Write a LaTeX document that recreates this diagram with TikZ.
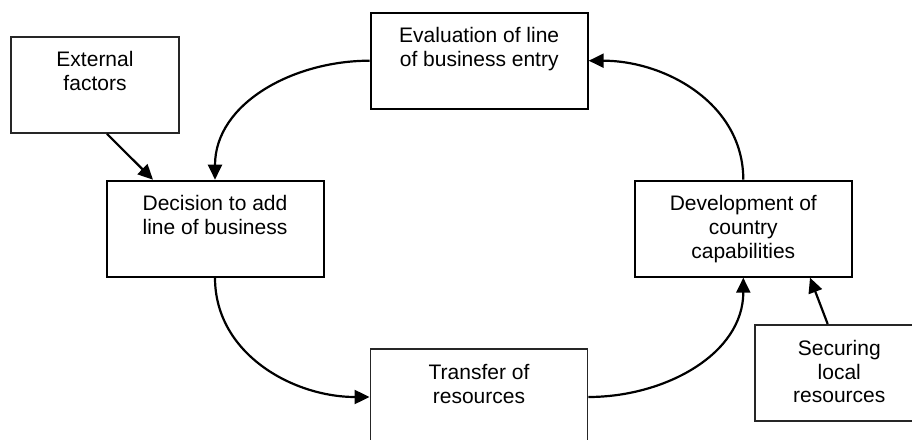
\documentclass[tikz,border=0pt]{standalone}
\usepackage{fontspec}
\setmainfont{Liberation Sans}
\usetikzlibrary{arrows.meta}
\newcommand{\bxt}[2]{\parbox[c][96pt][t]{#1}{\centering\rule{0pt}{30pt}#2}}
\begin{document}
\begin{tikzpicture}[x=1pt,y=1pt,
 box/.style={draw=black, line width=2pt, minimum width=217pt, minimum height=96pt, inner sep=0pt, font=\fontsize{21}{24}\selectfont},
 graybox/.style={box, draw=black!85, line width=1.9pt},
 smallbox/.style={graybox, minimum width=168.6pt},
 arr/.style={line width=2.2pt, -{Triangle[length=15pt,width=14pt]}}]
\useasboundingbox (0,0) rectangle (912,439);
\clip (0,0) rectangle (912,439);
\node[box] (eval) at (479.2,378.3) {\bxt{210pt}{Evaluation of line\\of business entry}};
\node[box] (dec) at (215,210.3) {\bxt{210pt}{Decision to add\\line of business}};
\node[box] (dev) at (743.3,210.3) {\bxt{210pt}{Development of\\country\\capabilities}};
\node[graybox] (tra) at (479,42) {\bxt{210pt}{Transfer of\\resources}};
\node[smallbox] (ext) at (95,354) {\bxt{160pt}{External\\factors}};
\node[smallbox] (sec) at (839.3,66) {\bxt{160pt}{Securing\\local\\resources}};
\draw[arr] (eval.west) to[out=180,in=90] (dec.north);
\draw[arr] (dec.south) to[out=-90,in=180] (tra.west);
\draw[arr] (tra.east) to[out=0,in=-90] (dev.south);
\draw[arr] (dev.north) to[out=90,in=0] (eval.east);
\draw[arr] ([xshift=12pt]ext.south) -- ([xshift=-62pt]dec.north);
\draw[arr] ([xshift=-11.6pt]sec.north) -- ([xshift=66.7pt]dev.south);
\end{tikzpicture}
\end{document}
